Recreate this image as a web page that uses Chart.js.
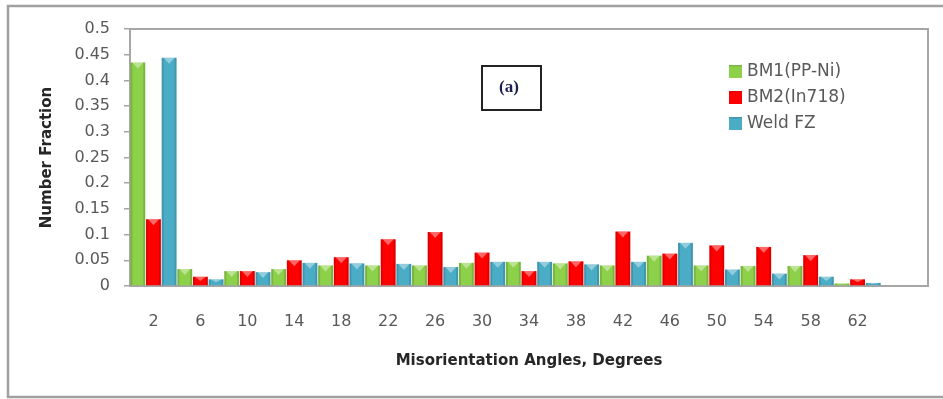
<!DOCTYPE html>
<html><head><meta charset="utf-8">
<script src="https://cdn.jsdelivr.net/npm/chart.js@4.4.0/dist/chart.umd.min.js"></script>
<style>html,body{margin:0;padding:0;background:#fff;overflow:hidden}</style>
</head><body>
<canvas id="c" width="943" height="399"></canvas>
<script>
const categories = ['2','6','10','14','18','22','26','30','34','38','42','46','50','54','58','62',''];
const seriesNames = ['BM1(PP-Ni)','BM2(In718)','Weld FZ'];
const bm1  = [0.435,0.033,0.029,0.033,0.040,0.040,0.040,0.045,0.047,0.044,0.040,0.059,0.040,0.039,0.039,0.005,null];
const bm2  = [0.130,0.018,0.029,0.050,0.056,0.091,0.105,0.065,0.029,0.048,0.106,0.063,0.079,0.076,0.060,0.013,null];
const weld = [0.444,0.013,0.027,0.045,0.044,0.043,0.037,0.047,0.047,0.042,0.047,0.084,0.032,0.024,0.018,0.006,null];
const yTickLabels = ['0','0.05','0.1','0.15','0.2','0.25','0.3','0.35','0.4','0.45','0.5'];
const seriesColors = ['#8dd04a','#ff0000','#4bacc6'];
const panelLabel = '(a)';

const GRAY = '#a6a6a6';
const TXT = '#595959';

const decor = {
  id: 'decor',
  beforeDraw(chart) {
    const ctx = chart.ctx;
    ctx.save();
    ctx.fillStyle = '#fff';
    ctx.fillRect(0, 0, chart.width, chart.height);
    ctx.restore();
  },
  afterDatasetsDraw(chart) {
    const ctx = chart.ctx;
    ctx.save();
    chart.data.datasets.forEach((ds, di) => {
      const meta = chart.getDatasetMeta(di);
      meta.data.forEach(bar => {
        const p = bar.getProps(['x','y','base','width'], true);
        if (p.y == null || isNaN(p.y)) return;
        const l = p.x - p.width / 2, h = p.base - p.y;
        if (h <= 0.5) return;
        ctx.fillStyle = 'rgba(0,0,0,0.13)';
        ctx.fillRect(l, p.y, 2, h);
        ctx.fillRect(l + p.width - 2, p.y, 2, h);
        const t = Math.min(6, h / 2);
        ctx.fillStyle = 'rgba(255,255,255,0.4)';
        ctx.beginPath();
        ctx.moveTo(l + 2, p.y);
        ctx.lineTo(l + p.width - 2, p.y);
        ctx.lineTo(p.x, p.y + t);
        ctx.closePath();
        ctx.fill();
      });
    });
    ctx.restore();
  },
  afterDraw(chart) {
    const ctx = chart.ctx;
    const a = chart.chartArea;
    ctx.save();
    // plot frame top & right
    ctx.strokeStyle = GRAY;
    ctx.lineWidth = 2;
    ctx.beginPath();
    ctx.moveTo(a.left, a.top);
    ctx.lineTo(a.right, a.top);
    ctx.lineTo(a.right, a.bottom);
    ctx.stroke();
    // outer frame
    ctx.lineWidth = 2.5;
    ctx.strokeStyle = '#a0a0a0';
    ctx.strokeRect(8, 6, 950, 391);
    // panel label box
    ctx.lineWidth = 2;
    ctx.strokeStyle = '#222';
    ctx.strokeRect(482, 66, 59, 44);
    ctx.fillStyle = '#1d1d4f';
    ctx.font = 'bold 17px "Liberation Serif", serif';
    ctx.textAlign = 'center';
    ctx.textBaseline = 'middle';
    ctx.fillText(panelLabel, 509, 88);
    // legend
    ctx.textAlign = 'left';
    ctx.font = '17px "DejaVu Sans", sans-serif';
    chart.data.datasets.forEach((ds, i) => {
      const cy = 71.5 + i * 26;
      ctx.fillStyle = ds.backgroundColor;
      ctx.fillRect(729, cy - 6.5, 13, 13);
      ctx.fillStyle = 'rgba(0,0,0,0.12)';
      ctx.fillRect(729, cy - 6.5, 13, 1.5);
      ctx.fillStyle = TXT;
      ctx.fillText(ds.label, 747, cy);
    });
    ctx.restore();
  }
};

new Chart(document.getElementById('c'), {
  type: 'bar',
  data: {
    labels: categories,
    datasets: [
      { label: seriesNames[0], data: bm1, backgroundColor: seriesColors[0] },
      { label: seriesNames[1], data: bm2, backgroundColor: seriesColors[1] },
      { label: seriesNames[2], data: weld, backgroundColor: seriesColors[2] }
    ]
  },
  options: {
    responsive: false,
    animation: false,
    devicePixelRatio: 1,
    layout: { padding: { left: 0, top: 29, right: 15, bottom: 0 } },
    datasets: { bar: { categoryPercentage: 1, barPercentage: 0.95 } },
    plugins: { legend: { display: false }, tooltip: { enabled: false } },
    scales: {
      x: {
        grid: { display: true, drawOnChartArea: false, drawTicks: false, color: GRAY },
        border: { display: true, color: GRAY, width: 2 },
        ticks: { color: TXT, font: { family: 'DejaVu Sans', size: 16 }, padding: 26, maxRotation: 0, autoSkip: false },
        title: { display: true, text: 'Misorientation Angles, Degrees', color: '#262626',
                 font: { family: 'DejaVu Sans', size: 15, weight: 'bold' }, padding: { top: 0, bottom: 29 } },
        afterFit(s) { s.height = 113; }
      },
      y: {
        min: 0, max: 0.5,
        grid: { display: true, drawOnChartArea: false, drawTicks: true, tickLength: 6, color: GRAY, lineWidth: 1.5 },
        border: { display: true, color: GRAY, width: 2 },
        ticks: { stepSize: 0.05, color: TXT, font: { family: 'DejaVu Sans', size: 16 }, padding: 14,
                 callback: (v, i) => yTickLabels[i] },
        title: { display: true, text: 'Number Fraction', color: '#262626',
                 font: { family: 'DejaVu Sans', size: 15, weight: 'bold' }, padding: { top: 38, bottom: 0 } },
        afterFit(s) { s.width = 130; }
      }
    }
  },
  plugins: [decor]
});
</script>
</body></html>
